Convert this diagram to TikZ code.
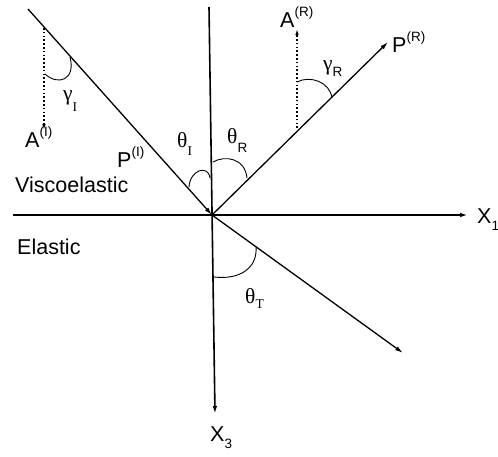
\documentclass[tikz,border=0pt]{standalone}
\usepackage{fontspec}
\setmainfont{Liberation Sans}
\newfontfamily\grk{Liberation Serif}
\usetikzlibrary{arrows.meta}

\newcommand{\up}[1]{\raisebox{11pt}{\fontsize{13.5}{13.5}\selectfont #1}}
\newcommand{\dn}[2][7pt]{\raisebox{-#1}{\fontsize{13.5}{13.5}\selectfont #2}}

\begin{document}
\begin{tikzpicture}[x=1pt,y=-1pt,
  axis/.style={line width=1.6pt,-{Latex[length=8pt,width=4.5pt]}},
  ray/.style={line width=1.3pt,-{Latex[length=8pt,width=4.5pt]}},
  amp/.style={line width=1.1pt,dash pattern=on 1.6pt off 2.2pt,-{Latex[length=6pt,width=3.5pt]}},
  angarc/.style={line width=0.9pt},
  lbl/.style={font=\fontsize{21.5}{25}\selectfont,inner sep=0pt,anchor=base west}]

  \useasboundingbox (0,0) rectangle (498,456);

  % Origin and end points
  \coordinate (O) at (212,215);
  \coordinate (x1s) at (13,215);
  \coordinate (x1e) at (468,215);
  \coordinate (x3s) at (209,7);
  \coordinate (x3e) at (215,414);
  \coordinate (Is) at (28,9);
  \coordinate (Re) at (388,42);
  \coordinate (Te) at (403,353);
  \coordinate (AIs) at (44,28);
  \coordinate (AIe) at (44,130);
  \coordinate (ARs) at (297,128);
  \coordinate (ARe) at (297,29);

  % Axes
  \draw[axis] (x1s) -- (x1e);
  \draw[axis] (x3s) -- (x3e);

  % Incident, reflected and transmitted rays
  \draw[ray] (Is) -- (O);
  \draw[ray] (O) -- (Re);
  \draw[ray] (O) -- (Te);

  % Amplitude directions
  \draw[amp] (AIs) -- (AIe);
  \draw[amp] (ARs) -- (ARe);

  % Angle arcs
  \draw[angarc] (45,74) .. controls (58,86) and (76,80) .. (70,57);
  \draw[angarc] (189,187) .. controls (190,170) and (208,164) .. (210,178);
  \draw[angarc] (213,162) .. controls (225,155) and (245,158) .. (247,178);
  \draw[angarc] (297,82) .. controls (310,75) and (330,82) .. (332,98);
  \draw[angarc] (214,277) .. controls (240,280) and (258,268) .. (256,246);

  % Labels
  \node[lbl] (AI) at (25,147) {A\up{(I)}};
  \node[lbl] (AR) at (280,27) {A\up{(R)}};
  \node[lbl] (PI) at (117,167) {P\up{(I)}};
  \node[lbl] (PR) at (392,52) {P\up{(R)}};
  \node[lbl] (gI) at (63,100) {{\grk γ}\dn[11pt]{\grk I}};
  \node[lbl] (gR) at (323,70) {{\grk γ}\dn[6pt]{R}};
  \node[lbl] (thI) at (177,147) {{\grk θ}\dn[8pt]{\grk I}};
  \node[lbl] (thR) at (227,143) {{\grk θ}\dn[9pt]{R}};
  \node[lbl] (thT) at (245,303) {{\grk θ}\dn[5pt]{\grk T}};
  \node[lbl] (visco) at (15,192) {Viscoelastic};
  \node[lbl] (elastic) at (17,254) {Elastic};
  \node[lbl] (x1) at (477,223) {X\dn{1}};
  \node[lbl] (x3) at (210,441) {X\dn{3}};

\end{tikzpicture}
\end{document}
